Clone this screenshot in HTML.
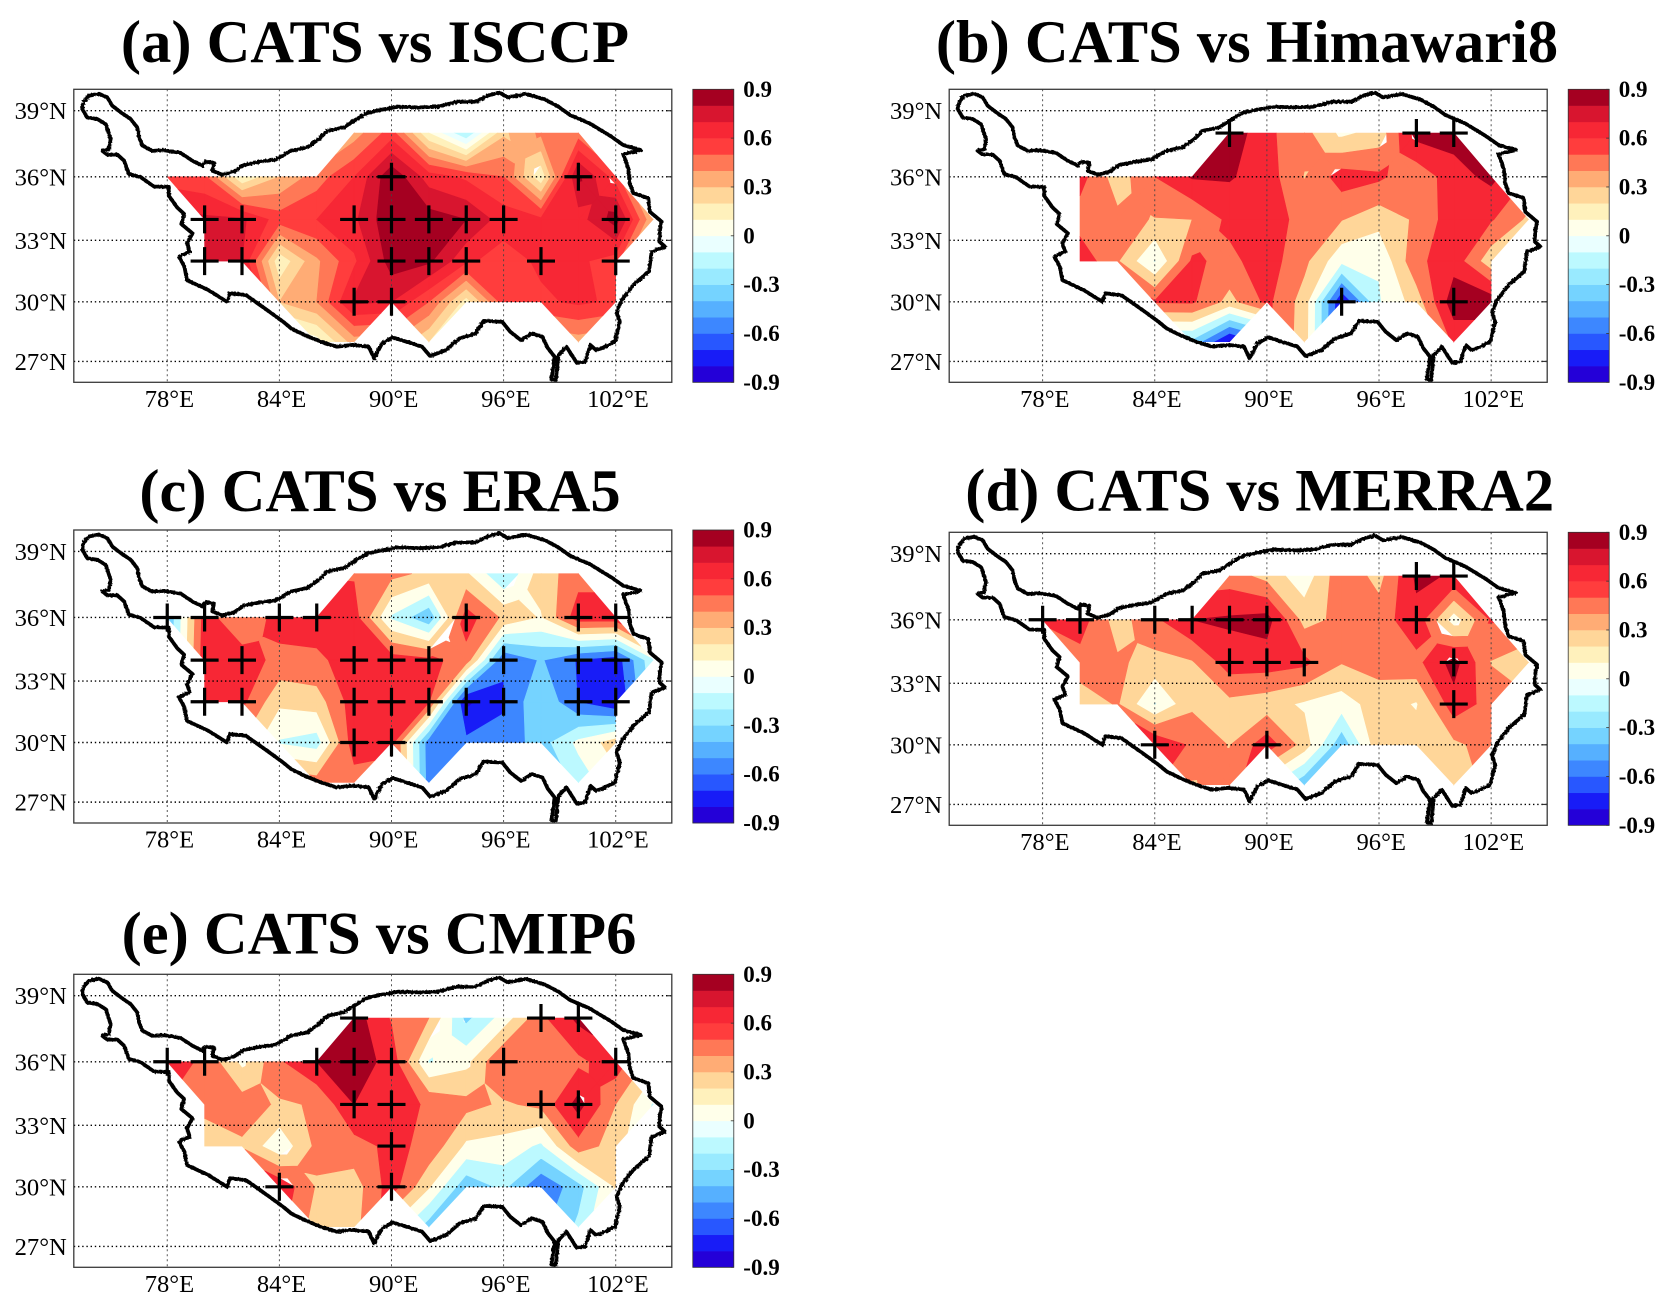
<!DOCTYPE html>
<html lang="en">
<head>
<meta charset="utf-8">
<title>CATS correlation maps</title>
<style>
html,body{margin:0;padding:0;background:#fff;}
svg{display:block;font-family:"Liberation Serif","Times New Roman",serif;}
</style>
</head>
<body>
<svg id="figure" xmlns="http://www.w3.org/2000/svg" width="1676" height="1308" viewBox="0 0 1676 1308">
<defs>
<filter id="rough" x="-3%" y="-3%" width="106%" height="106%">
<feTurbulence type="fractalNoise" baseFrequency="0.45" numOctaves="2" seed="4" result="n"/>
<feDisplacementMap in="SourceGraphic" in2="n" scale="2.6"/>
</filter>
</defs>
<rect x="0" y="0" width="1676" height="1308" fill="#fff"/>
</svg>
<script>
const lons = [78,80,82,84,86,88,90,92,94,96,98,100,102,104];
const lats = [38,36,34,32,30,28];
const n = null;

const isccp = [
[n,n,n,n,n,.35,.55,.1,-.2,.28,.42,.45,n,n],
[.55,.52,.1,.3,.45,.6,.88,.65,.58,.5,.12,.82,.55,n],
[n,.72,.72,.55,.6,.68,.88,.85,.8,.65,.62,.65,.85,.3],
[n,.75,.7,.12,.38,.58,.85,.82,.62,.55,.62,.62,.55,n],
[n,n,n,.3,.4,.72,.7,.5,.15,.55,.58,.62,.58,n],
[n,n,n,n,.05,.35,n,.2,n,n,n,.35,n,n]
];
const himawari = [
[n,n,n,n,n,.94,.644,.467,.15,.28,.88,.875,n,n],
[n,.68,.29,.6,.82,.82,.7,.39,.7,.64,.45,.72,.85,n],
[n,.5,.45,.39,.4,.65,.7,.53,.41,.27,.43,.72,.62,.36],
[n,.74,.42,-.02,.63,.55,.7,.45,.05,.02,.55,.72,.27,n],
[n,n,n,.62,.63,.33,.65,.31,-.8,-.02,.29,.92,.92,n],
[n,n,n,n,-.25,-.85,n,.3,n,n,n,.65,n,n]
];
const era5 = [
[n,n,n,n,n,.58,.46,.35,.23,-.2,.3,.51,n,n],
[-.4,.69,.42,.69,.7,.69,-.03,-.37,.7,.36,.18,.72,.72,n],
[n,.72,.7,.54,.56,.69,.7,.65,.52,-.58,-.38,-.62,-.72,-.05],
[n,.72,.65,.24,.3,.7,.72,.62,-.85,-.62,-.21,-.61,-.8,n],
[n,n,n,-.02,-.1,.72,.68,-.52,-.55,-.55,-.29,.05,.3,n],
[n,n,n,n,.5,.5,n,-.5,n,n,n,-.12,n,n]
];
const merra2 = [
[n,n,n,n,n,.5,.33,.07,.55,.33,.84,.78,n,n],
[.62,.7,.3,.56,.8,.83,.88,.33,.45,.5,.735,.09,.62,n],
[n,.52,.43,.33,.38,.7,.7,.65,.41,.47,.54,.88,.39,.3],
[n,.27,.42,-.02,.36,.34,.28,.17,.1,.3,.18,.72,.52,n],
[n,n,n,.8,.56,.39,.72,.31,-.35,.35,.3,.35,.5,n],
[n,n,n,n,.38,.5,n,-.36,n,n,n,.3,n,n]
];
const cmip6 = [
[n,n,n,n,n,.9,.58,.4,-.25,.08,.55,.85,n,n],
[.7,.56,.15,.57,.8,.92,.72,-.02,.14,.62,.45,.55,.72,n],
[n,.45,.5,.37,.42,.8,.7,.57,.46,.37,.45,.88,.4,-.02],
[n,.3,.37,.05,.45,.52,.65,.55,.16,.13,-.04,.52,.3,n],
[n,n,n,.75,.38,.3,.7,.22,-.35,-.15,-.58,-.28,.22,n],
[n,n,n,n,.3,.33,n,-.3,n,n,n,-.16,n,n]
];

const sigIsccp = [[90,36],[100,36],[80,34],[82,34],[88,34],[90,34],[92,34],[94,34],[96,34],[102,34],[80,32],[82,32],[90,32],[92,32],[94,32],[98,32],[102,32],[88,30],[90,30]];
const sigHimawari = [[88,38],[98,38],[100,38],[94,30],[100,30]];
const sigEra5 = [[78,36],[80,36],[84,36],[86,36],[94,36],[100,36],[102,36],[80,34],[82,34],[88,34],[90,34],[92,34],[96,34],[100,34],[102,34],[80,32],[82,32],[88,32],[90,32],[92,32],[94,32],[96,32],[100,32],[102,32],[88,30],[90,30]];
const sigMerra2 = [[98,38],[100,38],[78,36],[80,36],[84,36],[86,36],[88,36],[90,36],[98,36],[88,34],[90,34],[92,34],[100,34],[100,32],[84,30],[90,30]];
const sigCmip6 = [[88,38],[98,38],[100,38],[78,36],[80,36],[86,36],[88,36],[90,36],[96,36],[102,36],[88,34],[90,34],[98,34],[100,34],[90,32],[84,30],[90,30]];

const lonTicks = [78,84,90,96,102];
const latTicks = [39,36,33,30,27];
const levels = [-.9,-.8,-.7,-.6,-.5,-.4,-.3,-.2,-.1,0,.1,.2,.3,.4,.5,.6,.7,.8,.9];
const coarseLevels = [-1,-.8,-.6,-.4,-.2,0,.2,.4,.6,.8,1];
const colors = ["#2400d8","#181cf7","#2857ff","#3d87ff","#56b0ff","#75d3ff","#99eaff","#bcf9ff","#eaffff","#ffffea","#fff1bc","#ffd699","#ffac75","#ff7856","#ff3d3d","#f72735","#d8152f","#a50021"];
const cbarTicks = ["0.9","0.6","0.3","0","-0.3","-0.6","-0.9"];
const cbarValues = [.9,.6,.3,0,-.3,-.6,-.9];

const outlineLon = [73.51,73.81,74.35,74.79,75.06,75.51,76.04,76.40,76.49,76.67,77.20,77.83,78.72,79.34,79.88,80.06,80.50,80.41,80.95,81.57,82.11,83.00,83.80,84.60,85.49,86.12,86.56,87.46,87.99,88.70,89.36,90.35,91.50,92.49,93.50,94.50,95.22,95.79,96.22,97.22,98.21,98.93,99.55,100.62,101.78,102.40,103.33,102.40,102.67,102.76,102.94,103.74,103.83,104.46,104.37,104.33,104.63,103.92,103.78,102.94,102.32,102.05,102.22,101.96,101.24,100.94,100.65,100.35,99.92,99.36,98.93,98.79,98.56,98.73,98.36,98.08,97.51,96.93,96.36,95.93,94.93,94.50,93.64,92.93,92.07,91.64,90.07,89.50,89.07,88.78,87.92,87.07,86.21,85.35,84.64,84.21,83.35,82.21,81.35,81.20,80.20,79.06,78.92,78.63,79.20,79.06,79.35,78.75,78.90,78.54,78.09,78.09,77.29,76.58,75.95,75.69,75.33,74.79,74.52,74.88,74.97,74.71,74.26,73.72,73.45,73.51];
const outlineLat = [39.37,39.66,39.75,39.59,39.22,38.93,38.63,38.25,37.81,37.43,37.19,37.22,37.10,36.74,36.51,36.70,36.64,36.28,36.09,36.24,36.55,36.70,36.79,37.19,37.35,37.73,38.10,38.26,38.55,38.90,39.03,39.18,39.15,39.18,39.40,39.40,39.69,39.80,39.59,39.74,39.50,39.18,38.81,38.43,37.83,37.46,37.23,37.04,36.39,35.70,35.24,35.00,34.36,33.89,33.50,32.94,32.70,32.45,31.50,30.83,30.09,29.50,29.00,28.00,27.67,27.58,27.83,26.98,26.92,27.75,27.32,26.05,26.08,27.24,27.69,28.25,28.42,28.08,28.50,29.00,29.05,28.42,28.17,27.58,27.27,27.75,28.22,27.92,27.16,27.75,27.84,27.75,28.00,28.34,28.67,29.00,29.59,30.33,30.42,30.00,30.58,31.07,31.73,32.21,32.46,32.86,33.34,33.78,34.26,34.56,35.11,35.53,35.55,35.98,36.13,36.74,37.02,37.02,37.20,37.27,37.73,38.40,38.63,38.70,39.08,39.37];

const panels = [
  {key:"a", title:"(a) CATS vs ISCCP", tx:375, ty:62, left:73.8, top:89.3, grid:isccp, sig:sigIsccp, edges:levels},
  {key:"b", title:"(b) CATS vs Himawari8", tx:1247, ty:62, left:949.2, top:89.3, grid:himawari, sig:sigHimawari, edges:coarseLevels},
  {key:"c", title:"(c) CATS vs ERA5", tx:380, ty:511, left:73.8, top:530, grid:era5, sig:sigEra5, edges:coarseLevels},
  {key:"d", title:"(d) CATS vs MERRA2", tx:1259.7, ty:510.7, left:949.2, top:532.3, grid:merra2, sig:sigMerra2, edges:coarseLevels},
  {key:"e", title:"(e) CATS vs CMIP6", tx:379, ty:953.3, left:73.8, top:974.3, grid:cmip6, sig:sigCmip6, edges:coarseLevels}
];

const W = 598, H = 293, LON0 = 73, PXDEG = W / 32, PXM = 1000.5;
const SVGNS = "http://www.w3.org/2000/svg";
const root = document.getElementById("figure");
function merc(lat){ return Math.log(Math.tan(Math.PI/4 + lat*Math.PI/360)); }
function mk(parent, tag, attrs, text){
  const el = document.createElementNS(SVGNS, tag);
  for (const k in attrs) el.setAttribute(k, attrs[k]);
  if (text !== undefined) el.textContent = text;
  parent.appendChild(el);
  return el;
}
function bandColor(lower){
  const i = Math.round((lower - levels[0]) / 0.1);
  return colors[Math.max(0, Math.min(colors.length - 1, i))];
}
function clipPoly(poly, level, above){
  const out = [];
  for (let i = 0; i < poly.length; i++){
    const a = poly[i], b = poly[(i+1) % poly.length];
    const ia = above ? a.v >= level : a.v <= level;
    const ib = above ? b.v >= level : b.v <= level;
    if (ia) out.push(a);
    if (ia !== ib){
      const t = (level - a.v) / (b.v - a.v);
      out.push({lon:a.lon + t*(b.lon-a.lon), lat:a.lat + t*(b.lat-a.lat), v:level});
    }
  }
  return out;
}
function gridCells(grid){
  const cells = [];
  for (let r = 0; r < lats.length-1; r++){
    for (let c = 0; c < lons.length-1; c++){
      const corners = [[r,c],[r,c+1],[r+1,c+1],[r+1,c]]
        .map(p => ({lon:lons[p[1]], lat:lats[p[0]], v:grid[p[0]][p[1]]}))
        .filter(p => p.v !== null);
      if (corners.length >= 3) cells.push(corners);
    }
  }
  return cells;
}
function isSaddle(cell, level){
  if (cell.length !== 4) return false;
  const a = cell[0].v >= level, b = cell[1].v >= level, c = cell[2].v >= level, d = cell[3].v >= level;
  return a === c && b === d && a !== b;
}
function piecesFor(cell, lo, hi){
  if (!isSaddle(cell, lo) && !isSaddle(cell, hi)) return [cell];
  const mid = {
    lon: cell.reduce((s,q) => s + q.lon, 0) / 4,
    lat: cell.reduce((s,q) => s + q.lat, 0) / 4,
    v: cell.reduce((s,q) => s + q.v, 0) / 4
  };
  return cell.map((q,i) => [q, cell[(i+1) % 4], mid]);
}

panels.forEach(function(p){
  const xS = lon => p.left + (lon - LON0) * PXDEG;
  const yS = lat => p.top - 1.2 + PXM * (merc(40) - merc(lat));
  const bottom = p.top + H, right = p.left + W;

  const g = mk(root, "g", {});
  
  

  const title = mk(g, "text", {x:p.tx, y:p.ty, "text-anchor":"middle", "font-size":60.5, "font-weight":"bold", fill:"#000"}, p.title);
  
  

  const cells = gridCells(p.grid);
  const contours = mk(g, "g", {});
  
  
  for (let i = 0; i < p.edges.length - 1; i++){
    const lo = p.edges[i], hi = p.edges[i+1];
    const col = bandColor(lo);
    let d = "";
    cells.forEach(function(cell){
      piecesFor(cell, lo, hi).forEach(function(piece){
        let poly = clipPoly(piece, lo, true);
        if (poly.length) poly = clipPoly(poly, hi, false);
        if (poly.length > 2){
          d += "M" + poly.map(q => xS(q.lon).toFixed(1) + " " + yS(q.lat).toFixed(1)).join("L") + "Z";
        }
      });
    });
    if (d){
      const band = mk(contours, "path", {d:d, fill:col, stroke:col, "stroke-width":0.6});
      
      
    }
  }

  lonTicks.forEach(function(lon){
    const line = mk(g, "line", {x1:xS(lon), x2:xS(lon), y1:p.top, y2:bottom, stroke:"#444", "stroke-width":0.9, "stroke-dasharray":"2 3"});
    
    
    const lab = mk(g, "text", {x:xS(lon)+2.2, y:bottom+24.5, "text-anchor":"middle", "font-size":24.6, fill:"#000"}, lon + "°E");
    
    
  });
  latTicks.forEach(function(lat){
    const line = mk(g, "line", {x1:p.left, x2:right, y1:yS(lat), y2:yS(lat), stroke:"#000", "stroke-width":1.4, "stroke-dasharray":"1.4 2.8"});
    
    
    const tick = mk(g, "line", {x1:right-5, x2:right, y1:yS(lat), y2:yS(lat), stroke:"#333", "stroke-width":1.2});
    
    
    const lab = mk(g, "text", {x:p.left-7, y:yS(lat)+8.5, "text-anchor":"end", "font-size":24.6, fill:"#000"}, lat + "°N");
    
    
  });

  const pts = outlineLon.map((lon,i) => xS(lon).toFixed(1) + "," + yS(outlineLat[i]).toFixed(1)).join(" ");
  const outline = mk(g, "polyline", {points:pts, fill:"none", stroke:"#000", "stroke-width":3.8, "stroke-linejoin":"round", filter:"url(#rough)"});
  
  

  p.sig.forEach(function(s){
    const x = xS(s[0]), y = yS(s[1]);
    const m = mk(g, "path", {d:"M"+(x-14)+" "+y+"H"+(x+14)+"M"+x+" "+(y-14)+"V"+(y+14), stroke:"#000", "stroke-width":3.2, fill:"none"});
    
    
  });

  const frame = mk(g, "rect", {x:p.left, y:p.top, width:W, height:H, fill:"none", stroke:"#3a3a3a", "stroke-width":1.3});
  
  

  const cbLeft = right + 21, cbW = 41;
  const cS = v => bottom - (v - levels[0]) / (levels[levels.length-1] - levels[0]) * H;
  const cb = mk(g, "g", {});
  
  
  colors.forEach(function(col, i){
    const r = mk(cb, "rect", {x:cbLeft, y:cS(levels[i+1]), width:cbW, height:cS(levels[i])-cS(levels[i+1])+0.3, fill:col});
    
    
  });
  const cbFrame = mk(cb, "rect", {x:cbLeft, y:p.top, width:cbW, height:H, fill:"none", stroke:"#333", "stroke-width":0.8});
  
  
  cbarTicks.forEach(function(label, i){
    const y = cS(cbarValues[i]);
    const t = mk(cb, "line", {x1:cbLeft+cbW-3, x2:cbLeft+cbW, y1:y, y2:y, stroke:"#333", "stroke-width":0.8});
    
    
    const lab = mk(cb, "text", {x:cbLeft+cbW+9.5, y:y+7.5, "font-size":23, "font-weight":"bold", fill:"#000"}, label);
    
    
  });
});
</script>
</body>
</html>
